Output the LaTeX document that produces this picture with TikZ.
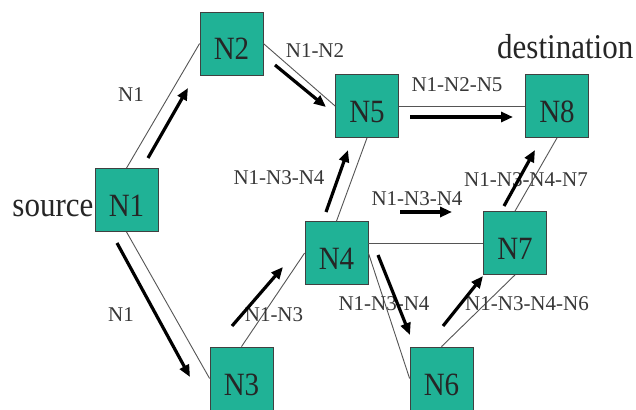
\documentclass[tikz,border=0pt]{standalone}
\usepackage{fontspec}
\setmainfont{Liberation Serif}
\usetikzlibrary{arrows.meta}
\definecolor{nodeteal}{RGB}{32,178,150}
\definecolor{edgegray}{RGB}{85,85,85}
\definecolor{labgray}{RGB}{55,55,55}
\tikzset{
  netnode/.style={draw=black!75, line width=0.8pt, fill=nodeteal, minimum width=63pt, minimum height=63pt,
    inner sep=0pt, text height=33pt, text depth=0pt, font=\fontsize{29}{29}\selectfont, text=black!85},
  link/.style={draw=edgegray, line width=0.9pt},
  flow/.style={draw=black, line width=3.2pt, -{Triangle[length=12pt,width=10pt]}},
  elabel/.style={font=\fontsize{21}{21}\selectfont, text=labgray, inner sep=0pt},
  biglabel/.style={font=\fontsize{31}{31}\selectfont, text=black!85, inner sep=0pt}
}
\newcommand{\tallt}[1]{\scalebox{1}[1.12]{#1}}
\begin{document}
\begin{tikzpicture}[x=1pt,y=-1pt]
\useasboundingbox (0,0) rectangle (636,409);
\fill[white] (0,0) rectangle (636,409);

% nodes
\node[netnode] (N1) at (126.5,200) {\tallt{N1}};
\node[netnode] (N2) at (231.5,43.5) {\tallt{N2}};
\node[netnode] (N3) at (241.5,378.5) {\tallt{N3}};
\node[netnode] (N4) at (336.5,253) {\tallt{N4}};
\node[netnode] (N5) at (367,106) {\tallt{N5}};
\node[netnode] (N6) at (441.5,378.5) {\tallt{N6}};
\node[netnode] (N7) at (515,243) {\tallt{N7}};
\node[netnode] (N8) at (557,106) {\tallt{N8}};

% links
\draw[link] (N1.north) -- (N2.west);
\draw[link] (N1.south) -- (N3.west);
\draw[link] (N2.east) -- (N5.west);
\draw[link] (N5.east) -- (N8.west);
\draw[link] (N5.south) -- (N4.north);
\draw[link] (N3.north) -- (N4.west);
\draw[link] (N4.east |- N7.west) -- (N7.west);
\draw[link] (N4.east) -- (N6.west);
\draw[link] (N6.north) -- (N7.south);
\draw[link] (N7.north) -- (N8.south);

% big labels
\node[biglabel, anchor=base east] (src) at ([xshift=-1pt]N1.base west) {\tallt{source}};
\node[biglabel, anchor=base west] (dst) at (497,59) {\tallt{destination}};

% edge labels
\node[elabel] (l1) at (131,95) {N1};
\node[elabel] (l2) at (315,51) {N1-N2};
\node[elabel] (l3) at (457,85) {N1-N2-N5};
\node[elabel] (l4) at (279,178) {N1-N3-N4};
\node[elabel] (l5) at (417,199) {N1-N3-N4};
\node[elabel] (l6) at (526,180) {N1-N3-N4-N7};
\node[elabel] (l7) at (274,315) {N1-N3};
\node[elabel] (l8) at (121,315) {N1};
\node[elabel] (l9) at (384,304) {N1-N3-N4};
\node[elabel] (l10) at (527,304) {N1-N3-N4-N6};

% flow arrow end points
\coordinate (a1s) at (148,158);  \coordinate (a1e) at (188,88);
\coordinate (a2s) at (275,65);   \coordinate (a2e) at (326,107);
\coordinate (a3s) at (410,117);  \coordinate (a3e) at (513,117);
\coordinate (a4s) at (326,212);  \coordinate (a4e) at (348,150);
\coordinate (a5s) at (232,326);  \coordinate (a5e) at (283,267);
\coordinate (a6s) at (117,243);  \coordinate (a6e) at (190,377);
\coordinate (a7s) at (400,212);  \coordinate (a7e) at (452,212);
\coordinate (a8s) at (378,255);  \coordinate (a8e) at (410,335);
\coordinate (a9s) at (443,326);  \coordinate (a9e) at (483,276);
\coordinate (a10s) at (504,206); \coordinate (a10e) at (535,150);

\draw[flow] (a1s) -- (a1e);
\draw[flow] (a2s) -- (a2e);
\draw[flow] (a3s) -- (a3e);
\draw[flow] (a4s) -- (a4e);
\draw[flow] (a5s) -- (a5e);
\draw[flow] (a6s) -- (a6e);
\draw[flow] (a7s) -- (a7e);
\draw[flow] (a8s) -- (a8e);
\draw[flow] (a9s) -- (a9e);
\draw[flow] (a10s) -- (a10e);
\end{tikzpicture}
\end{document}
